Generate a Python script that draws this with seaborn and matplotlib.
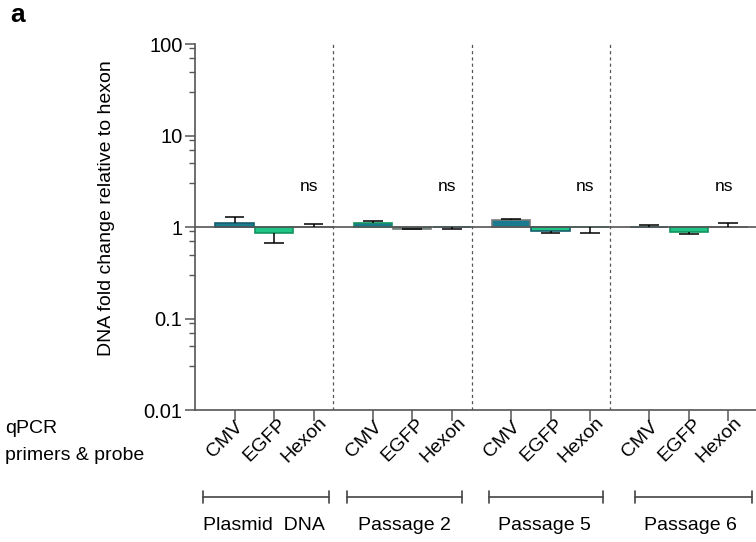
import numpy as np
import pandas as pd
import matplotlib
matplotlib.use("Agg")
import matplotlib.pyplot as plt
import matplotlib.ticker as mticker
from matplotlib.transforms import blended_transform_factory, offset_copy
import seaborn as sns

# ---- data -------------------------------------------------------------
groups = ["Plasmid  DNA", "Passage 2", "Passage 5", "Passage 6"]
primers = ["CMV", "EGFP", "Hexon"]

# mean fold change relative to hexon, one value per group
cmv_mean = [1.10, 1.12, 1.18, 1.01]
egfp_mean = [0.87, 0.96, 0.90, 0.875]
hexon_mean = [1.00, 1.00, 1.00, 1.00]

# one-sided error (signed: + drawn upward, - drawn downward)
cmv_err = [0.19, 0.04, 0.05, 0.03]
egfp_err = [-0.20, -0.01, -0.04, -0.045]
hexon_err = [0.08, -0.05, -0.15, 0.10]

sig_labels = ["ns", "ns", "ns", "ns"]

# ---- style ------------------------------------------------------------
sns.set_theme(style="ticks")
plt.rcParams["font.family"] = ["Liberation Sans", "DejaVu Sans"]
plt.rcParams["text.color"] = "black"
plt.rcParams["axes.labelcolor"] = "black"
plt.rcParams["xtick.labelcolor"] = "black"
plt.rcParams["ytick.labelcolor"] = "black"
AX_COLOR = "#555555"
palette = {"CMV": "#1b7b8e", "EGFP": "#20c585", "Hexon": "#9a9a9a"}
edges = {"CMV": "#145f6d", "EGFP": "#12935f", "Hexon": "#7a7a7a"}

# ---- table ------------------------------------------------------------
means = [cmv_mean, egfp_mean, hexon_mean]
errs = [cmv_err, egfp_err, hexon_err]
rows = []
for g, grp in enumerate(groups):
    for i, pr in enumerate(primers):
        rows.append(dict(group=grp, primer=pr, pos=g * 3.5 + i,
                         value=means[i][g], err=errs[i][g]))
df = pd.DataFrame(rows)
# bars rise or fall from the reference level of 1
df["delta"] = df["value"] - 1.0

fig = plt.figure(figsize=(7.56, 5.42), dpi=100)
ax = fig.add_axes([0.258, 0.2435, 0.742, 0.6753])

sns.barplot(data=df, x="pos", y="delta", hue="primer", palette=palette,
            native_scale=True, width=0.97, errorbar=None, legend=False,
            saturation=1, bottom=1.0, linewidth=1.2, ax=ax)
for patch, pr in zip(ax.patches, df["primer"]):
    patch.set_edgecolor(edges[pr])

ax.set_yscale("log")
ax.set_ylim(0.01, 100)
ax.set_xlim(-1.0, 13.2)

# one-sided error bars with caps
for _, r in df.iterrows():
    end = r["value"] + r["err"]
    ax.vlines(r["pos"], r["value"], end, color="black", lw=1.1, zorder=4)
    ax.hlines(end, r["pos"] - 0.25, r["pos"] + 0.25, color="black", lw=1.1, zorder=4)

# reference line at 1 and group dividers
ax.axhline(1.0, color=AX_COLOR, lw=1.2, zorder=3)
for xd in [2.5, 6.0, 9.5]:
    ax.axvline(xd, color=AX_COLOR, lw=0.9, ls=(0, (2.5, 2.5)), zorder=1)

# significance labels above the hexon bars
for g, lab in enumerate(sig_labels):
    ax.text(g * 3.5 + 2 - 0.12, 2.8, lab, ha="center", va="center", fontsize=12.5)

# axes styling
for s in ["top", "right"]:
    ax.spines[s].set_visible(False)
for s in ["left", "bottom"]:
    ax.spines[s].set_color(AX_COLOR)
    ax.spines[s].set_linewidth(1.2)

ax.yaxis.set_major_locator(mticker.FixedLocator([0.01, 0.1, 1, 10, 100]))
ax.yaxis.set_major_formatter(mticker.FixedFormatter(["0.01", "0.1", "1", "10", "100"]))
ax.yaxis.set_minor_locator(mticker.LogLocator(base=10, subs=(0.3, 0.5, 0.7, 0.9), numticks=20))
ax.yaxis.set_minor_formatter(mticker.NullFormatter())
ax.tick_params(axis="y", which="major", length=7, width=1.1, color=AX_COLOR,
               labelsize=14.5, pad=2)
ax.tick_params(axis="y", which="minor", length=4, width=1.0, color=AX_COLOR)

ax.set_xticks(df["pos"])
ax.set_xticklabels(df["primer"], rotation=45, ha="center", va="center",
                   rotation_mode="anchor", fontsize=14)
ax.tick_params(axis="x", length=8, width=1.1, color=AX_COLOR, pad=4)
for lbl in ax.get_xticklabels():
    lbl.set_transform(offset_copy(lbl.get_transform(), fig=fig, x=-9, y=-13, units="dots"))

ax.set_xlabel("")
ax.set_ylabel("DNA fold change relative to hexon", fontsize=14)
ax.yaxis.set_label_coords(-0.143, 0.552)

# primer caption on the left
fig.text(0.007, 0.210, "qPCR", fontsize=14, ha="left", va="center")
fig.text(0.007, 0.160, "primers & probe", fontsize=14, ha="left", va="center")

# group brackets under the category labels
btrans = blended_transform_factory(ax.transData, fig.transFigure)
brackets = [(-0.81, 2.38), (2.84, 5.75), (6.43, 9.32), (10.13, 13.09)]
label_x = [0.75, 4.3, 7.85, 11.55]
for (x0, x1), lx, grp in zip(brackets, label_x, groups):
    ax.plot([x0, x1], [0.083, 0.083], color="#444444", lw=1.2,
            transform=btrans, clip_on=False)
    for xe in (x0, x1):
        ax.plot([xe, xe], [0.072, 0.094], color="#444444", lw=1.2,
                transform=btrans, clip_on=False)
    ax.text(lx, 0.031, grp, ha="center", va="center", fontsize=14,
            transform=btrans)

fig.text(0.014, 0.972, "a", fontsize=19, fontweight="bold", ha="left", va="center")

fig.savefig("out.png", dpi=100)
